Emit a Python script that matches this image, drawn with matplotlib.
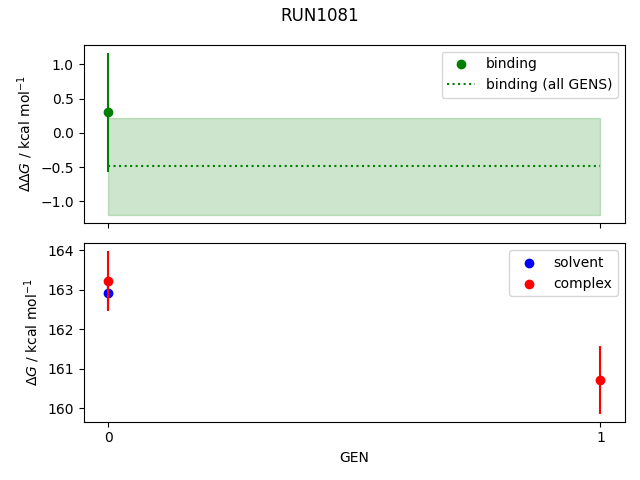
import matplotlib
matplotlib.use("Agg")
import matplotlib.pyplot as plt
import numpy as np

title = "RUN1081"
gens = [0, 1]
binding_gen = [0]
binding_val = [0.30]
binding_err = [0.87]
binding_all = -0.49
binding_all_err = 0.71

solvent_gen = [0]
solvent_val = [162.93]
solvent_err = [0.44]
complex_gen = [0, 1]
complex_val = [163.22, 160.72]
complex_err = [0.76, 0.85]

fig, (ax1, ax2) = plt.subplots(2, 1, sharex=True, figsize=(6.4, 4.8), dpi=100)

ax1.scatter(binding_gen, binding_val, color="g", label="binding")
ax1.errorbar(binding_gen, binding_val, yerr=binding_err, color="g", fmt="none")
ax1.hlines(binding_all, min(gens), max(gens), color="g", linestyles=":", label="binding (all GENS)")
ax1.fill_between(gens, binding_all - binding_all_err, binding_all + binding_all_err, color="g", alpha=0.2)
ax1.set_ylabel(r"$\Delta\Delta G$ / kcal mol$^{-1}$")
ax1.legend(loc="upper right")

ax2.scatter(solvent_gen, solvent_val, color="b", label="solvent")
ax2.errorbar(solvent_gen, solvent_val, yerr=solvent_err, color="b", fmt="none")
ax2.scatter(complex_gen, complex_val, color="r", label="complex")
ax2.errorbar(complex_gen, complex_val, yerr=complex_err, color="r", fmt="none")
ax2.set_ylabel(r"$\Delta G$ / kcal mol$^{-1}$")
ax2.set_xlabel("GEN")
ax2.set_xticks(gens)
ax2.legend(loc="upper right")

fig.suptitle(title, y=0.985)
fig.tight_layout(rect=(0, 0, 1, 1.007))
fig.savefig("out.png")
